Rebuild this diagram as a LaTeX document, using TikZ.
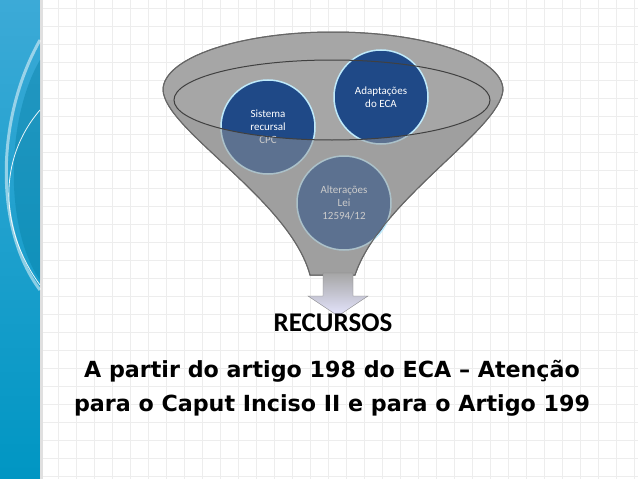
\documentclass[tikz,border=0pt]{standalone}
\usepackage{fontspec}
\setmainfont{Carlito}
\newfontfamily\titlef{DejaVu Sans}
\definecolor{ballc}{RGB}{31,73,135}
\definecolor{bandt}{RGB}{60,170,215}
\definecolor{bandb}{RGB}{0,150,195}
\begin{document}
\begin{tikzpicture}[x=1pt,y=-1pt,
  ball/.style={circle,minimum size=94pt,fill=ballc,draw=cyan!25,line width=1.5pt,text=white,align=center,font=\fontsize{11}{13}\selectfont},
  gridl/.style={draw=black!7,line width=0.5pt}]
\useasboundingbox (0,0) rectangle (638,479);
\fill[white] (0,0) rectangle (638,479);
\foreach \x in {58,76,...,638} \draw[gridl] (\x,0) -- (\x,479);
\foreach \y in {8,26,...,479} \draw[gridl] (40,\y) -- (638,\y);
% left band
\shade[top color=bandt, bottom color=bandb] (0,0) rectangle (40,479);
\fill[black!12] (40,0) rectangle (43,479);
\fill[bandb!80!black,opacity=0.35] (40,60) .. controls (5,120) and (5,230) .. (40,280) -- cycle;
\draw[white,opacity=0.5,line width=3pt] (40,40) .. controls (-5,120) and (-5,230) .. (40,290);
\draw[white,opacity=0.9,line width=0.8pt] (40,110) .. controls (-3,160) and (0,230) .. (40,285);
% funnel
\def\funnel{(163,90) arc[start angle=180,end angle=360,x radius=170,y radius=58]
  .. controls (500,130) and (380,200) .. (355,275) -- (310,275) .. controls (290,200) and (165,130) .. (163,90)}
\path[fill=black!35,draw=black!60,line width=1pt] \funnel;
\node[ball] (s) at (268,127) {Sistema\\recursal\\CPC};
\node[ball] (a) at (381,97) {Adaptações\\do ECA};
\node[ball] (l) at (344,203) {Alterações\\Lei\\12594/12};
\begin{scope}
\clip \funnel;
\fill[black!40,opacity=0.5] (0,100) -- (174,100) arc[start angle=180,end angle=0,x radius=158,y radius=40] -- (638,100) -- (638,300) -- (0,300) -- cycle;
\end{scope}
\draw[black!75,line width=1pt] (332,100) ellipse[x radius=158,y radius=40];
\draw[black!60,line width=1pt] \funnel;
% arrow
\coordinate (t) at (338,316);
\shade[top color=black!35,bottom color=blue!10!white,draw=black!50] (323,273) -- (353,273) -- (353,296) -- (368,296) -- (t) -- (308,296) -- (323,296) -- cycle;
\node[font=\bfseries\fontsize{27}{30}\selectfont] (r) at (333,323) {RECURSOS};
\node[font=\titlef\bfseries\fontsize{22.2}{34}\selectfont,align=center] (b) at (332,388) {A partir do artigo 198 do ECA – Atenção\\para o Caput Inciso II e para o Artigo 199};
\end{tikzpicture}
\end{document}
